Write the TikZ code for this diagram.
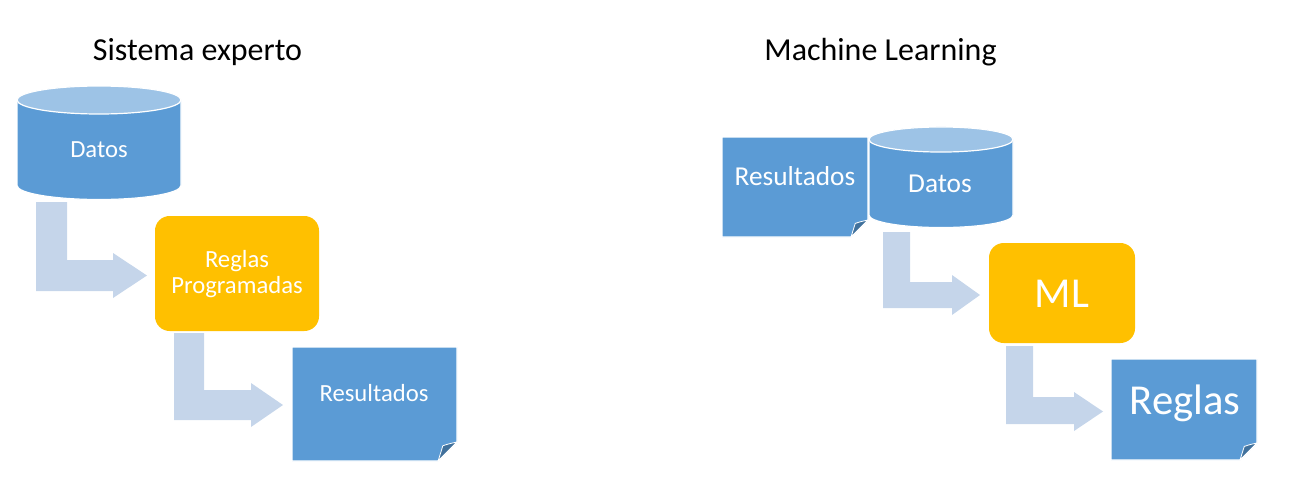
\documentclass[tikz,border=0pt]{standalone}
\usepackage{fontspec}
\setmainfont{Carlito}
\definecolor{blueF}{HTML}{5B9BD5}
\definecolor{blueTop}{HTML}{9DC3E6}
\definecolor{orangeF}{HTML}{FFC000}
\definecolor{arrowF}{HTML}{C5D5EA}
\definecolor{flapF}{HTML}{41719C}
\tikzset{
  shapeline/.style={draw=white, line width=0.9pt},
  arrowfill/.style={fill=arrowF},
  title/.style={anchor=base, inner sep=0pt, text=black, font=\fontsize{24}{28}\selectfont},
  lbl/.style={anchor=base, inner sep=0pt, text=white, font=\fontsize{18.5}{19.5}\selectfont, align=center},
  midlbl/.style={anchor=base, inner sep=0pt, text=white, font=\fontsize{20.5}{24}\selectfont},
  biglbl/.style={anchor=base, inner sep=0pt, text=white, font=\fontsize{32}{36}\selectfont},
}
% bent arrow: x1,x2,top,upper edge of horizontal bar,lower edge,head start x,tip x,head upper,head lower
\newcommand\bentarrow[9]{%
  \fill[arrowfill] (#1,#3) -- (#2,#3) -- (#2,#4) -- (#6,#4) -- (#6,#8) -- (#7,{(#8+#9)/2}) -- (#6,#9) -- (#6,#5) -- (#1,#5) -- cycle;}
% document shape: x1,ytop,x2,ybot,corner
\newcommand\docshape[5]{%
  \filldraw[fill=blueF, shapeline] (#1,#2) -- (#3,#2) -- (#3,{#4+#5}) -- ({#3-#5},#4) -- (#1,#4) -- cycle;
  \filldraw[fill=flapF, draw=white, line width=0.6pt, line join=round] ({#3-#5},#4) .. controls ({#3-0.85*#5},{#4+0.45*#5}) .. ({#3-0.75*#5},{#4+0.8*#5}) .. controls ({#3-0.45*#5},{#4+0.9*#5}) .. (#3,{#4+#5}) -- cycle;}
% cylinder: cx, rx(pt), ry(pt), ytopcenter, ybotcenter, x1, x2
\newcommand\cyl[7]{%
  \filldraw[fill=blueF, shapeline] (#6,#4) -- (#6,#5) arc[start angle=180, end angle=360, x radius=#2, y radius=#3] -- (#7,#4) arc[start angle=0, end angle=180, x radius=#2, y radius=#3] -- cycle;
  \filldraw[fill=blueTop, shapeline] (#1,#4) ellipse [x radius=#2, y radius=#3];}
\begin{document}
\begin{tikzpicture}[x=0.75pt, y=0.75pt]
\useasboundingbox (0,0) rectangle (1294,480);
% ---------- left: Sistema experto ----------
\node[title] (t1) at (197.5,420) {Sistema experto};
\cyl{99}{61.5pt}{10.5pt}{380}{294.5}{17}{181}
\node[lbl] (datos1) at (99,323) {Datos};
\bentarrow{36}{67}{278}{220}{189}{113}{147}{227}{182}
\fill[orangeF, rounded corners=11pt] (155,264) rectangle (319,149);
\node[lbl] (reglasprog) at (237,187) {Reglas\\Programadas};
\bentarrow{174}{204}{147}{90}{60}{251}{283}{97}{53}
\docshape{292}{133}{457}{19}{19}
\node[lbl] (res1) at (374,79) {Resultados};
% ---------- right: Machine Learning ----------
\node[title] (t2) at (880.5,420) {Machine Learning};
\docshape{722}{343}{868}{243}{17}
\node[midlbl] (res2) at (795,295) {Resultados};
\cyl{941}{54pt}{9.4pt}{340.5}{265}{869}{1013}
\node[midlbl] (datos2) at (940,288) {Datos};
\bentarrow{883}{910}{248}{198}{172}{952}{980}{205}{165}
\fill[orangeF, rounded corners=11pt] (989,237) rectangle (1135,137);
\node[biglbl] (ml) at (1062,173) {ML};
\bentarrow{1006}{1033}{134}{83}{56}{1074}{1103}{88}{49}
\docshape{1111}{121}{1257}{20}{17}
\node[biglbl] (reglas) at (1185,66) {Reglas};
\end{tikzpicture}
\end{document}
